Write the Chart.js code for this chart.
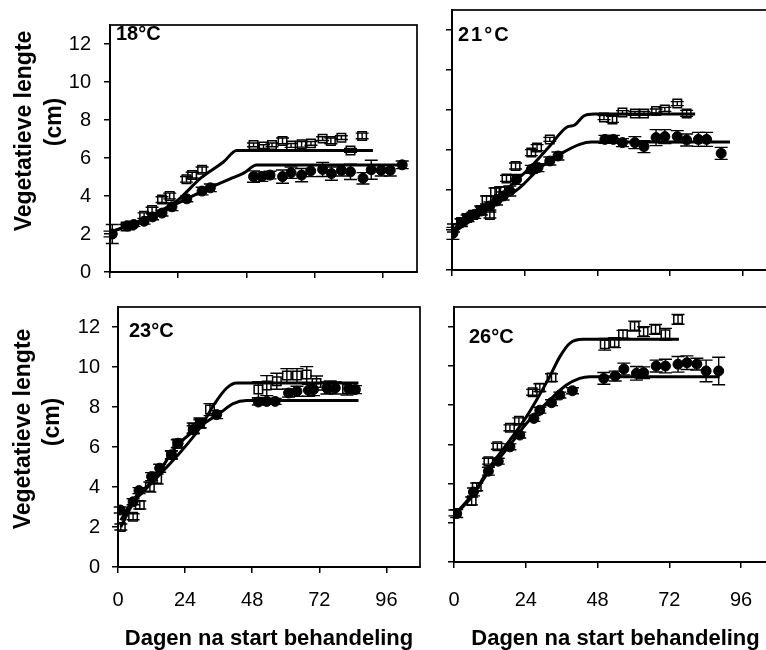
<!DOCTYPE html>
<html>
<head>
<meta charset="utf-8">
<script src="https://cdn.jsdelivr.net/npm/chart.js@4.4.1/dist/chart.umd.min.js"></script>
<style>
  html, body { margin: 0; padding: 0; background: #fff; width: 766px; height: 650px; overflow: hidden; }
  canvas { position: absolute; left: 0; top: 0; }
</style>
</head>
<body>
<canvas id="p18" width="800" height="650"></canvas>
<canvas id="p21" width="800" height="650"></canvas>
<canvas id="p23" width="800" height="650"></canvas>
<canvas id="p26" width="800" height="650"></canvas>
<script>
// Axis ticks
const dayTicks = [0, 24, 48, 72, 96];
const lengthTicks = [0, 2, 4, 6, 8, 10, 12];
const tempLabels = ['18°C', '21°C', '23°C', '26°C'];
const yTitleLines = ['Vegetatieve lengte', '(cm)'];
const xTitle = 'Dagen na start behandeling';

// 18 °C
const sqDays18 = [0, 5.5, 7, 12, 14.8, 18.3, 21, 26.9, 28.9, 32.4, 50.5, 54, 57, 60.7, 63.7, 67.4, 70.7, 74.8, 77.7, 81.4, 84.6, 88.7];
const sqLen18  = [2.0, 2.4, 2.45, 2.96, 3.26, 3.81, 4.0, 4.88, 5.1, 5.38, 6.69, 6.6, 6.69, 6.9, 6.66, 6.72, 6.77, 7.02, 6.9, 7.07, 6.4, 7.16];
const sqErr18  = [0.15, 0.1, 0.1, 0.15, 0.15, 0.15, 0.15, 0.15, 0.15, 0.15, 0.1, 0.1, 0.1, 0.15, 0.1, 0.15, 0.1, 0.1, 0.15, 0.1, 0.1, 0.15];
const ciDays18 = [0.8, 6, 8.4, 12, 15, 18.3, 21.8, 27, 32.4, 35.3, 50.5, 53.4, 56.3, 60.7, 63.7, 67.4, 70.6, 74.8, 77.9, 81.4, 84.6, 89, 91.9, 95.4, 98.6, 102.8];
const ciLen18  = [2.0, 2.42, 2.5, 2.67, 2.9, 3.1, 3.43, 3.85, 4.26, 4.43, 5.02, 5.02, 5.1, 5.02, 5.23, 5.1, 5.32, 5.4, 5.18, 5.35, 5.27, 4.93, 5.38, 5.35, 5.35, 5.64];
const ciErr18  = [0.5, 0.1, 0.1, 0.15, 0.15, 0.15, 0.2, 0.15, 0.2, 0.2, 0.3, 0.25, 0.2, 0.35, 0.3, 0.35, 0.3, 0.37, 0.35, 0.3, 0.4, 0.3, 0.5, 0.3, 0.3, 0.2];
const sqFitDays18 = [0, 10, 20, 24, 32, 40, 44.6, 92.5];
const sqFitLen18  = [2.09, 2.65, 3.4, 3.8, 4.95, 5.8, 6.4, 6.4];
const ciFitDays18 = [0, 10, 20, 27, 35, 43, 47, 51.6, 103];
const ciFitLen18  = [2.09, 2.65, 3.35, 3.85, 4.43, 4.95, 5.2, 5.63, 5.63];

// 21 °C
const sqDays21 = [0.5, 3, 5, 7, 9.5, 11.4, 12.5, 14.2, 16, 18, 21, 26.2, 28.1, 32.3, 50.2, 53, 56.3, 60.4, 63.4, 67.4, 70.3, 74.4, 77.5];
const sqLen21  = [2.1, 2.4, 2.6, 2.75, 3.0, 3.5, 2.75, 3.9, 3.95, 4.58, 5.2, 5.87, 6.12, 6.53, 7.62, 7.53, 7.87, 7.83, 7.83, 7.95, 8.03, 8.32, 7.83];
const sqErr21  = [0.2, 0.15, 0.15, 0.15, 0.2, 0.2, 0.15, 0.2, 0.2, 0.15, 0.15, 0.15, 0.15, 0.1, 0.1, 0.15, 0.1, 0.1, 0.1, 0.1, 0.1, 0.1, 0.15];
const ciDays21 = [0.3, 3.1, 5.3, 7.5, 9.7, 12.5, 14.7, 16.9, 19.1, 21.3, 26.2, 28.4, 32.3, 35, 50.5, 53.3, 56.3, 60.4, 63.4, 67.4, 70.3, 74.4, 77.5, 81.4, 84.1, 88.9];
const ciLen21  = [1.83, 2.37, 2.62, 2.78, 2.95, 3.2, 3.45, 3.7, 3.95, 4.53, 5.03, 5.12, 5.45, 5.7, 6.53, 6.53, 6.37, 6.37, 6.17, 6.62, 6.67, 6.67, 6.5, 6.53, 6.53, 5.83];
const ciErr21  = [0.3, 0.2, 0.2, 0.2, 0.2, 0.2, 0.2, 0.2, 0.25, 0.25, 0.2, 0.2, 0.2, 0.2, 0.2, 0.2, 0.2, 0.3, 0.3, 0.4, 0.35, 0.3, 0.3, 0.35, 0.35, 0.3];
const sqFitDays21 = [0, 8, 16, 21, 26, 32, 38, 40.5, 43.5, 47, 80.3];
const sqFitLen21  = [1.9, 2.8, 3.75, 4.45, 5.15, 6.15, 7.15, 7.25, 7.7, 7.8, 7.8];
const ciFitDays21 = [0, 10, 18, 22.4, 29, 35.6, 42.2, 46, 91.8];
const ciFitLen21  = [1.83, 2.85, 3.65, 4.12, 5.1, 5.78, 6.28, 6.4, 6.4];

// 23 °C
const sqDays23 = [1, 5.4, 7.8, 11.4, 14, 19.1, 21.2, 26.9, 29.3, 32.9, 50.2, 53.2, 56.8, 60.4, 64, 67.5, 71, 75.9, 81.9];
const sqLen23  = [2.0, 2.51, 3.1, 4.0, 4.4, 5.6, 6.16, 6.95, 7.2, 7.87, 8.87, 9.07, 9.29, 9.57, 9.57, 9.62, 9.2, 9.0, 8.9];
const sqErr23  = [0.15, 0.15, 0.2, 0.25, 0.25, 0.2, 0.2, 0.25, 0.25, 0.3, 0.4, 0.5, 0.4, 0.35, 0.35, 0.4, 0.35, 0.3, 0.3];
const ciDays23 = [0.8, 5.4, 7.5, 12, 14.9, 19.1, 21.5, 26.9, 29.3, 35.3, 50.2, 53.2, 56.2, 61, 64, 68.1, 69.9, 74.7, 77.7, 82.5, 84.9];
const ciLen23  = [2.85, 3.26, 3.82, 4.52, 4.94, 5.61, 6.19, 6.86, 7.16, 7.62, 8.25, 8.28, 8.28, 8.7, 8.79, 8.84, 8.87, 8.95, 8.95, 8.92, 8.87];
const ciErr23  = [0.15, 0.15, 0.15, 0.2, 0.2, 0.2, 0.2, 0.2, 0.2, 0.2, 0.15, 0.15, 0.15, 0.2, 0.25, 0.3, 0.3, 0.3, 0.3, 0.25, 0.2];
const sqFitDays23 = [1, 5.4, 12.6, 20.9, 29.3, 34.7, 38.9, 42.4, 86];
const sqFitLen23  = [2.0, 3.18, 4.27, 5.52, 6.95, 8.2, 8.95, 9.2, 9.2];
const ciFitDays23 = [1, 5.4, 12.6, 20.9, 29.3, 36.5, 41.2, 46, 86];
const ciFitLen23  = [2.34, 3.35, 4.35, 6.02, 7.03, 7.7, 8.17, 8.32, 8.32];

// 26 °C
const sqDays26 = [0.3, 5.9, 7.6, 11.5, 14.5, 18.7, 21.7, 26.3, 28.7, 32.6, 50.4, 53.7, 56.5, 60.4, 63.4, 67.4, 70.7, 74.9];
const sqLen26  = [2.5, 3.11, 3.83, 5.14, 5.9, 6.84, 7.2, 8.65, 8.89, 9.4, 11.1, 11.18, 11.61, 12.03, 11.74, 11.86, 11.61, 12.37];
const sqErr26  = [0.15, 0.2, 0.2, 0.15, 0.15, 0.15, 0.15, 0.15, 0.2, 0.2, 0.3, 0.25, 0.2, 0.25, 0.25, 0.25, 0.3, 0.25];
const ciDays26 = [0.9, 6.5, 11.5, 14.8, 18.7, 22, 26.7, 28.7, 32.6, 35.4, 39.6, 50.1, 53.9, 56.8, 61, 63.4, 67.6, 70.7, 74.9, 77.9, 81.2, 84.3, 88.5];
const ciLen26  = [2.47, 3.57, 4.63, 5.14, 5.87, 6.47, 7.32, 7.74, 8.12, 8.51, 8.73, 9.36, 9.48, 9.84, 9.62, 9.65, 9.99, 9.99, 10.08, 10.16, 10.09, 9.74, 9.74];
const ciErr26  = [0.2, 0.2, 0.2, 0.15, 0.15, 0.15, 0.15, 0.15, 0.15, 0.15, 0.15, 0.3, 0.25, 0.3, 0.35, 0.3, 0.3, 0.35, 0.4, 0.35, 0.3, 0.55, 0.7];
const sqFitDays26 = [0, 5.9, 12, 18.7, 24.2, 27.6, 32, 35.4, 38.7, 43.2, 75.2];
const sqFitLen26  = [2.38, 3.32, 4.85, 6.21, 7.4, 8.26, 9.45, 10.47, 11.15, 11.35, 11.35];
const ciFitDays26 = [0, 6.5, 12, 18.7, 24.2, 32, 37.6, 42, 45.4, 88.8];
const ciFitLen26  = [2.38, 3.49, 4.68, 5.96, 7.06, 8.26, 9.02, 9.36, 9.45, 9.45];

const FONT = "'Liberation Sans', Arial, Helvetica, sans-serif";
Chart.defaults.font.family = FONT;
Chart.defaults.color = '#000';

const pts = (xs, ys) => xs.map((x, i) => ({ x: x, y: ys[i] }));

// Vertical error bars with caps, placed through the chart's own scales
const errorBarPlugin = {
  id: 'errorBars',
  beforeDatasetsDraw(chart) {
    const ctx = chart.ctx;
    const yScale = chart.scales.y;
    ctx.save();
    ctx.strokeStyle = '#000';
    ctx.lineWidth = 1.4;
    chart.data.datasets.forEach((ds, i) => {
      if (!ds.errorBars) return;
      const meta = chart.getDatasetMeta(i);
      meta.data.forEach((el, j) => {
        const v = ds.data[j].y, e = ds.errorBars[j];
        const yt = yScale.getPixelForValue(v + e);
        const yb = yScale.getPixelForValue(v - e);
        const x = el.x;
        ctx.beginPath();
        ctx.moveTo(x, yt); ctx.lineTo(x, yb);
        ctx.moveTo(x - 6.5, yt); ctx.lineTo(x + 6.5, yt);
        ctx.moveTo(x - 6.5, yb); ctx.lineTo(x + 6.5, yb);
        ctx.stroke();
      });
    });
    ctx.restore();
  }
};

function makePanel(cfg) {
  const CW = 800, CH = 650, YW = 40;
  const a = cfg.area;
  const xh = cfg.xLabels ? CH - a.bottom : 10;

  const decor = {
    id: 'decor',
    afterDraw(chart) {
      const ctx = chart.ctx;
      const ca = chart.chartArea;
      ctx.save();
      // plot frame
      ctx.strokeStyle = '#000';
      ctx.lineWidth = 1.7;
      ctx.strokeRect(ca.left, ca.top, ca.right - ca.left, ca.bottom - ca.top);
      // temperature label
      ctx.fillStyle = '#000';
      ctx.font = 'bold 20px ' + FONT;
      ctx.textAlign = 'left';
      ctx.textBaseline = 'alphabetic';
      if (cfg.labelSpacing) ctx.letterSpacing = cfg.labelSpacing;
      ctx.fillText(cfg.label, cfg.labelPos[0], cfg.labelPos[1]);
      ctx.letterSpacing = '0px';
      // y axis title (two lines, rotated)
      if (cfg.yTitle) {
        ctx.font = 'bold 23px ' + FONT;
        ctx.textAlign = 'center';
        ctx.textBaseline = 'middle';
        cfg.yTitle.forEach((p, k) => {
          ctx.save();
          ctx.translate(p[0], p[1]);
          ctx.rotate(-Math.PI / 2);
          ctx.fillText(yTitleLines[k], 0, 0);
          ctx.restore();
        });
      }
      ctx.restore();
    }
  };

  return new Chart(document.getElementById(cfg.id), {
    type: 'scatter',
    data: {
      datasets: [
        { data: pts(cfg.sqFit[0], cfg.sqFit[1]), showLine: true, borderColor: '#000', borderWidth: 3,
          pointRadius: 0, cubicInterpolationMode: 'monotone', fill: false },
        { data: pts(cfg.ciFit[0], cfg.ciFit[1]), showLine: true, borderColor: '#000', borderWidth: 3,
          pointRadius: 0, cubicInterpolationMode: 'monotone', fill: false },
        { data: pts(cfg.sq[0], cfg.sq[1]), errorBars: cfg.sq[2], pointStyle: 'rect', pointRadius: 6,
          pointBackgroundColor: 'rgba(255,255,255,0)', pointBorderColor: '#000', pointBorderWidth: 1.5 },
        { data: pts(cfg.ci[0], cfg.ci[1]), errorBars: cfg.ci[2], pointStyle: 'circle', pointRadius: 5,
          pointBackgroundColor: '#000', pointBorderColor: '#000', pointBorderWidth: 1 }
      ]
    },
    options: {
      responsive: false,
      animation: false,
      devicePixelRatio: 1,
      layout: { padding: { left: a.left - YW, right: CW - a.right, top: a.top, bottom: CH - a.bottom - xh } },
      plugins: { legend: { display: false }, tooltip: { enabled: false } },
      scales: {
        x: {
          type: 'linear', min: 0, max: 108,
          afterBuildTicks: (s) => { s.ticks = dayTicks.map(v => ({ value: v })); },
          afterFit: (s) => { s.height = xh; },
          grid: { drawOnChartArea: false, drawTicks: true, tickLength: 6, color: '#000', lineWidth: 1.5 },
          border: { display: true, color: '#000', width: 2 },
          ticks: { display: cfg.xLabels, padding: cfg.xPad, font: { size: 20 }, color: '#000' },
          title: cfg.xLabels ? { display: true, text: xTitle, color: '#000',
            font: { size: 22, weight: 'bold', lineHeight: 1 }, padding: 0 } : { display: false }
        },
        y: {
          type: 'linear', min: 0, max: 13,
          afterBuildTicks: (s) => { s.ticks = lengthTicks.map(v => ({ value: v })); },
          afterFit: (s) => { s.width = YW; },
          grid: { drawOnChartArea: false, drawTicks: true, tickLength: 6, color: '#000', lineWidth: 1.5 },
          border: { display: true, color: '#000', width: 2 },
          ticks: { display: cfg.yLabels, padding: cfg.yPad, font: { size: 20 }, color: '#000' }
        }
      }
    },
    plugins: [errorBarPlugin, decor]
  });
}

makePanel({ id: 'p18', label: tempLabels[0], labelPos: [116, 40],
  area: { left: 110, right: 417, top: 12, bottom: 272 }, xLabels: false, yLabels: true, yPad: 13, xPad: 0,
  yTitle: [[25, 131], [55, 122]],
  sq: [sqDays18, sqLen18, sqErr18], ci: [ciDays18, ciLen18, ciErr18],
  sqFit: [sqFitDays18, sqFitLen18], ciFit: [ciFitDays18, ciFitLen18] });

makePanel({ id: 'p21', label: tempLabels[1], labelPos: [458, 41], labelSpacing: '2px',
  area: { left: 452, right: 779, top: 10, bottom: 270 }, xLabels: false, yLabels: false, yPad: 0, xPad: 0,
  sq: [sqDays21, sqLen21, sqErr21], ci: [ciDays21, ciLen21, ciErr21],
  sqFit: [sqFitDays21, sqFitLen21], ciFit: [ciFitDays21, ciFitLen21] });

makePanel({ id: 'p23', label: tempLabels[2], labelPos: [129, 337],
  area: { left: 118, right: 420, top: 307, bottom: 567 }, xLabels: true, yLabels: true, yPad: 12, xPad: 15,
  yTitle: [[24, 429], [53, 422]],
  sq: [sqDays23, sqLen23, sqErr23], ci: [ciDays23, ciLen23, ciErr23],
  sqFit: [sqFitDays23, sqFitLen23], ciFit: [ciFitDays23, ciFitLen23] });

makePanel({ id: 'p26', label: tempLabels[3], labelPos: [469, 343],
  area: { left: 454, right: 777, top: 307, bottom: 562 }, xLabels: true, yLabels: false, yPad: 0, xPad: 20,
  sq: [sqDays26, sqLen26, sqErr26], ci: [ciDays26, ciLen26, ciErr26],
  sqFit: [sqFitDays26, sqFitLen26], ciFit: [ciFitDays26, ciFitLen26] });
</script>
</body>
</html>
